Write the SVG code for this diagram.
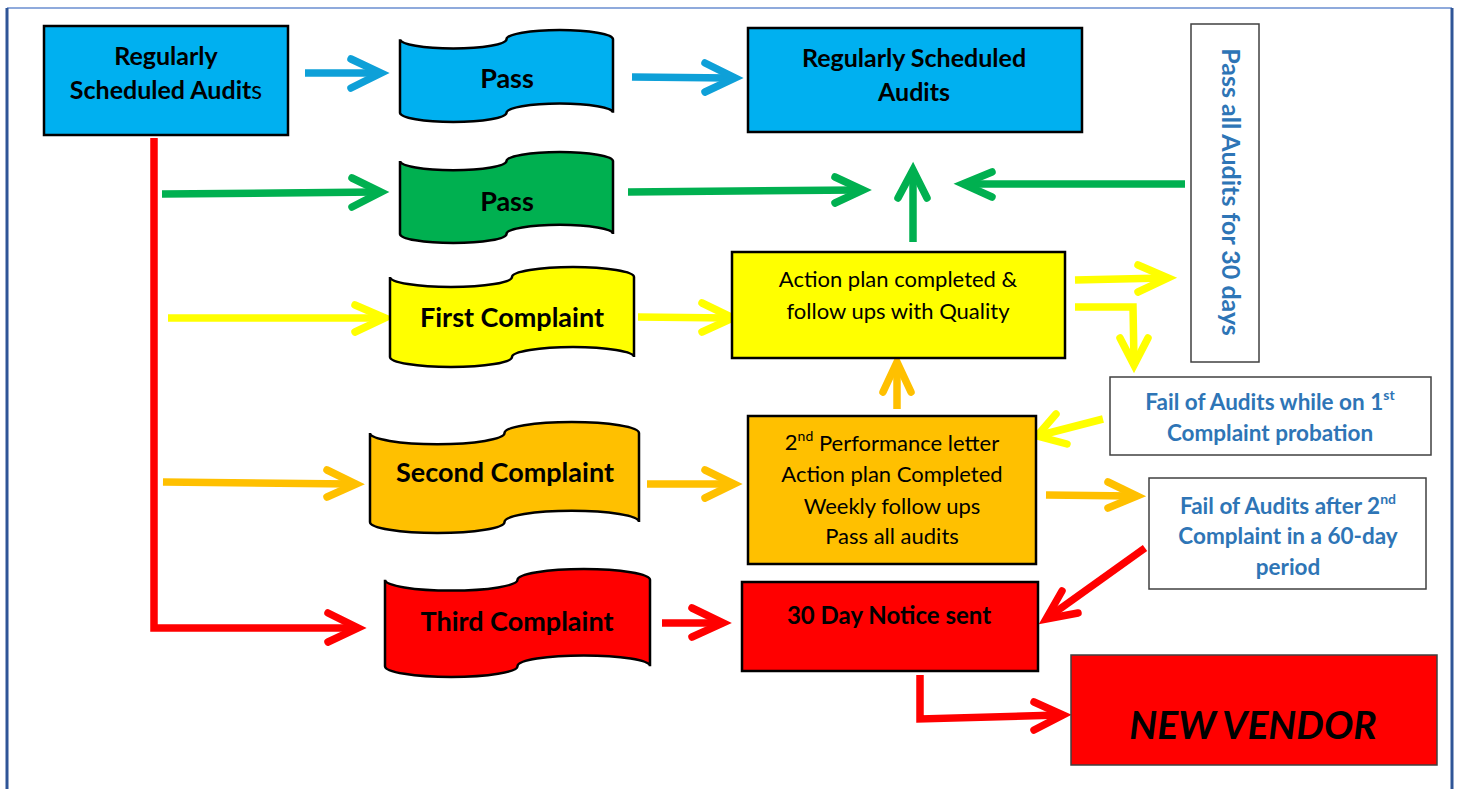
<svg xmlns="http://www.w3.org/2000/svg" width="1458" height="789" viewBox="0 0 1458 789">
<style>
.t{font-family:Lato,"Liberation Sans",sans-serif;fill:#000;text-anchor:middle;dominant-baseline:central}
.b{font-weight:bold}
.bl{fill:#2E75B6;font-weight:bold}
.shape{stroke:#000;stroke-width:2.5}
.box{stroke:#000;stroke-width:2.5}
.wbox{fill:#fff;stroke:#404040;stroke-width:1.5}
.shaft{fill:none;stroke-width:7.5;stroke-linecap:butt;stroke-linejoin:miter}
.head{fill:none;stroke-width:7.5;stroke-linecap:round;stroke-linejoin:miter;stroke-miterlimit:10}
.cb{stroke:#0EA0D8}.cg{stroke:#00B050}.cy{stroke:#FFFF00}.co{stroke:#FFC000}.cr{stroke:#FF0000}
</style>
<rect width="1458" height="789" fill="#fff"/>
<line x1="7" y1="8" x2="1452" y2="8" stroke="#8FAADC" stroke-width="2"/>
<line x1="7" y1="8" x2="7" y2="789" stroke="#2F5597" stroke-width="3"/>
<line x1="1452" y1="8" x2="1452" y2="789" stroke="#2F5597" stroke-width="3"/>

<g id="connectors">
  <!-- blue -->
  <path class="shaft cb" d="M305,73 L377,73"/>
  <path class="head cb" d="M351,59 L381,73 L351,88"/>
  <path class="shaft cb" d="M632,77 L731,78"/>
  <path class="head cb" d="M705,63 L735,78 L705,92"/>
  <!-- green -->
  <path class="shaft cg" d="M162,194 L377,192"/>
  <path class="head cg" d="M352,178 L381,192 L352,207"/>
  <path class="shaft cg" d="M628,192 L859,190"/>
  <path class="head cg" d="M835,177 L863,190 L835,203"/>
  <path class="shaft cg" d="M913,242 L913,174"/>
  <path class="head cg" d="M898,198 L913,170 L927,198"/>
  <path class="shaft cg" d="M1185,184 L967,184"/>
  <path class="head cg" d="M992,172 L963,184 L992,197"/>
  <!-- yellow -->
  <path class="shaft cy" d="M168,318 L381,318"/>
  <path class="head cy" d="M355,305 L385,318 L355,332"/>
  <path class="shaft cy" d="M638,317 L729,318"/>
  <path class="head cy" d="M702,303 L733,318 L702,332"/>
  <path class="shaft cy" d="M1075,280 L1164,278"/>
  <path class="head cy" d="M1138,265 L1168,278 L1138,292"/>
  <path class="shaft cy" d="M1075,307 L1133,307 L1134,361"/>
  <path class="head cy" d="M1120,338 L1134,365 L1148,338"/>
  <path class="shaft cy" d="M1103,419 L1041,435"/>
  <path class="head cy" d="M1056,414 L1037,436 L1067,444"/>
  <!-- orange -->
  <path class="shaft co" d="M163,482 L352,484"/>
  <path class="head co" d="M327,470 L356,484 L327,497"/>
  <path class="shaft co" d="M647,484 L730,484"/>
  <path class="head co" d="M705,470 L734,484 L705,498"/>
  <path class="shaft co" d="M897,409 L897,366"/>
  <path class="head co" d="M883,392 L897,362 L911,392"/>
  <path class="shaft co" d="M1046,495 L1133,496"/>
  <path class="head co" d="M1108,482 L1137,496 L1108,508"/>
  <!-- red -->
  <path class="shaft cr" d="M154,138 L154,628 L354,628"/>
  <path class="head cr" d="M328,613 L358,628 L328,642"/>
  <path class="shaft cr" d="M662,623 L719,623"/>
  <path class="head cr" d="M692,608 L723,623 L692,637"/>
  <path class="shaft cr" d="M1145,548 L1050,616"/>
  <path class="head cr" d="M1062,591 L1046,619 L1078,613"/>
  <path class="shaft cr" d="M920,675 L920,719 L1059,715"/>
  <path class="head cr" d="M1034,702 L1063,715 L1034,730"/>
</g>

<g id="n-audits-start">
  <rect class="box" x="44" y="26" width="244" height="109" fill="#00B0F0"/>
  <text class="t b" x="166" y="54.5" font-size="25">Regularly</text>
  <text class="t b" x="166" y="88.5" font-size="25">Scheduled Audit<tspan font-weight="normal">s</tspan></text>
</g>

<g id="n-pass1">
  <path class="shape" fill="#00B0F0" d="M400,39.2 A53.25,9.2 0 0 0 506.5,39.2 A53.25,9.2 0 0 1 613,39.2 L613,112.8 A53.25,9.2 0 0 0 506.5,112.8 A53.25,9.2 0 0 1 400,112.8 Z"/>
  <text class="t b" x="507" y="77.5" font-size="27">Pass</text>
</g>

<g id="n-pass2">
  <path class="shape" fill="#00B050" d="M400,161.1 A53.25,9.1 0 0 0 506.5,161.1 A53.25,9.1 0 0 1 613,161.1 L613,233.9 A53.25,9.1 0 0 0 506.5,233.9 A53.25,9.1 0 0 1 400,233.9 Z"/>
  <text class="t b" x="507" y="200.5" font-size="27">Pass</text>
</g>

<g id="n-first">
  <path class="shape" fill="#FFFF00" d="M390,277 A61,10 0 0 0 512,277 A61,10 0 0 1 634,277 L634,357 A61,10 0 0 0 512,357 A61,10 0 0 1 390,357 Z"/>
  <text class="t b" x="512" y="316.5" font-size="27">First Complaint</text>
</g>

<g id="n-second">
  <path class="shape" fill="#FFC000" d="M370,433.1 A67.25,11.1 0 0 0 504.5,433.1 A67.25,11.1 0 0 1 639,433.1 L639,521.9 A67.25,11.1 0 0 0 504.5,521.9 A67.25,11.1 0 0 1 370,521.9 Z"/>
  <text class="t b" x="505" y="471.5" font-size="27">Second Complaint</text>
</g>

<g id="n-third">
  <path class="shape" fill="#FF0000" d="M385,579.8 A66.25,10.8 0 0 0 517.5,579.8 A66.25,10.8 0 0 1 650,579.8 L650,666.2 A66.25,10.8 0 0 0 517.5,666.2 A66.25,10.8 0 0 1 385,666.2 Z"/>
  <text class="t b" x="517" y="620.5" font-size="27">Third Complaint</text>
</g>

<g id="n-audits-end">
  <rect class="box" x="748" y="28" width="334" height="104" fill="#00B0F0"/>
  <text class="t b" x="914" y="56.5" font-size="25">Regularly Scheduled</text>
  <text class="t b" x="914" y="90.5" font-size="25">Audits</text>
</g>

<g id="n-action">
  <rect class="box" x="732" y="252" width="333" height="106" fill="#FFFF00"/>
  <text class="t" x="898" y="278.5" font-size="22">Action plan completed &amp;</text>
  <text class="t" x="898" y="310.5" font-size="22">follow ups with Quality</text>
</g>

<g id="n-second-actions">
  <rect class="box" x="748" y="416" width="288" height="148" fill="#FFC000"/>
  <text class="t" x="892" y="441.5" font-size="22">2<tspan dy="-7" font-size="14">nd</tspan><tspan dy="7"> Performance letter</tspan></text>
  <text class="t" x="892" y="473.5" font-size="22">Action plan Completed</text>
  <text class="t" x="892" y="505.5" font-size="22">Weekly follow ups</text>
  <text class="t" x="892" y="535.5" font-size="22">Pass all audits</text>
</g>

<g id="n-notice">
  <rect class="box" x="742" y="582" width="296" height="89" fill="#FF0000"/>
  <text class="t b" x="889" y="614.5" font-size="24">30 Day Notice sent</text>
</g>

<g id="n-new-vendor">
  <rect x="1071" y="655" width="366" height="110" fill="#FF0000" stroke="#404040" stroke-width="1.5"/>
  <text class="t b" x="1253" y="723.5" font-size="39" font-style="italic">NEW VENDOR</text>
</g>

<g id="n-pass30">
  <rect class="wbox" x="1191" y="24" width="68" height="338"/>
  <text class="t bl" x="1232" y="192" font-size="25" transform="rotate(90 1232 192)">Pass all Audits for 30 days</text>
</g>

<g id="n-fail1">
  <rect class="wbox" x="1110" y="377" width="321" height="78"/>
  <text class="t bl" x="1270" y="401.5" font-size="22.5">Fail of Audits while on 1<tspan dy="-8" font-size="14">st</tspan></text>
  <text class="t bl" x="1270" y="432.5" font-size="22.5">Complaint probation</text>
</g>

<g id="n-fail2">
  <rect class="wbox" x="1149" y="478" width="277" height="111"/>
  <text class="t bl" x="1288" y="505.5" font-size="22.5">Fail of Audits after 2<tspan dy="-8" font-size="14">nd</tspan></text>
  <text class="t bl" x="1288" y="535.5" font-size="22.5">Complaint in a 60-day</text>
  <text class="t bl" x="1288" y="566.5" font-size="22.5">period</text>
</g>
</svg>
